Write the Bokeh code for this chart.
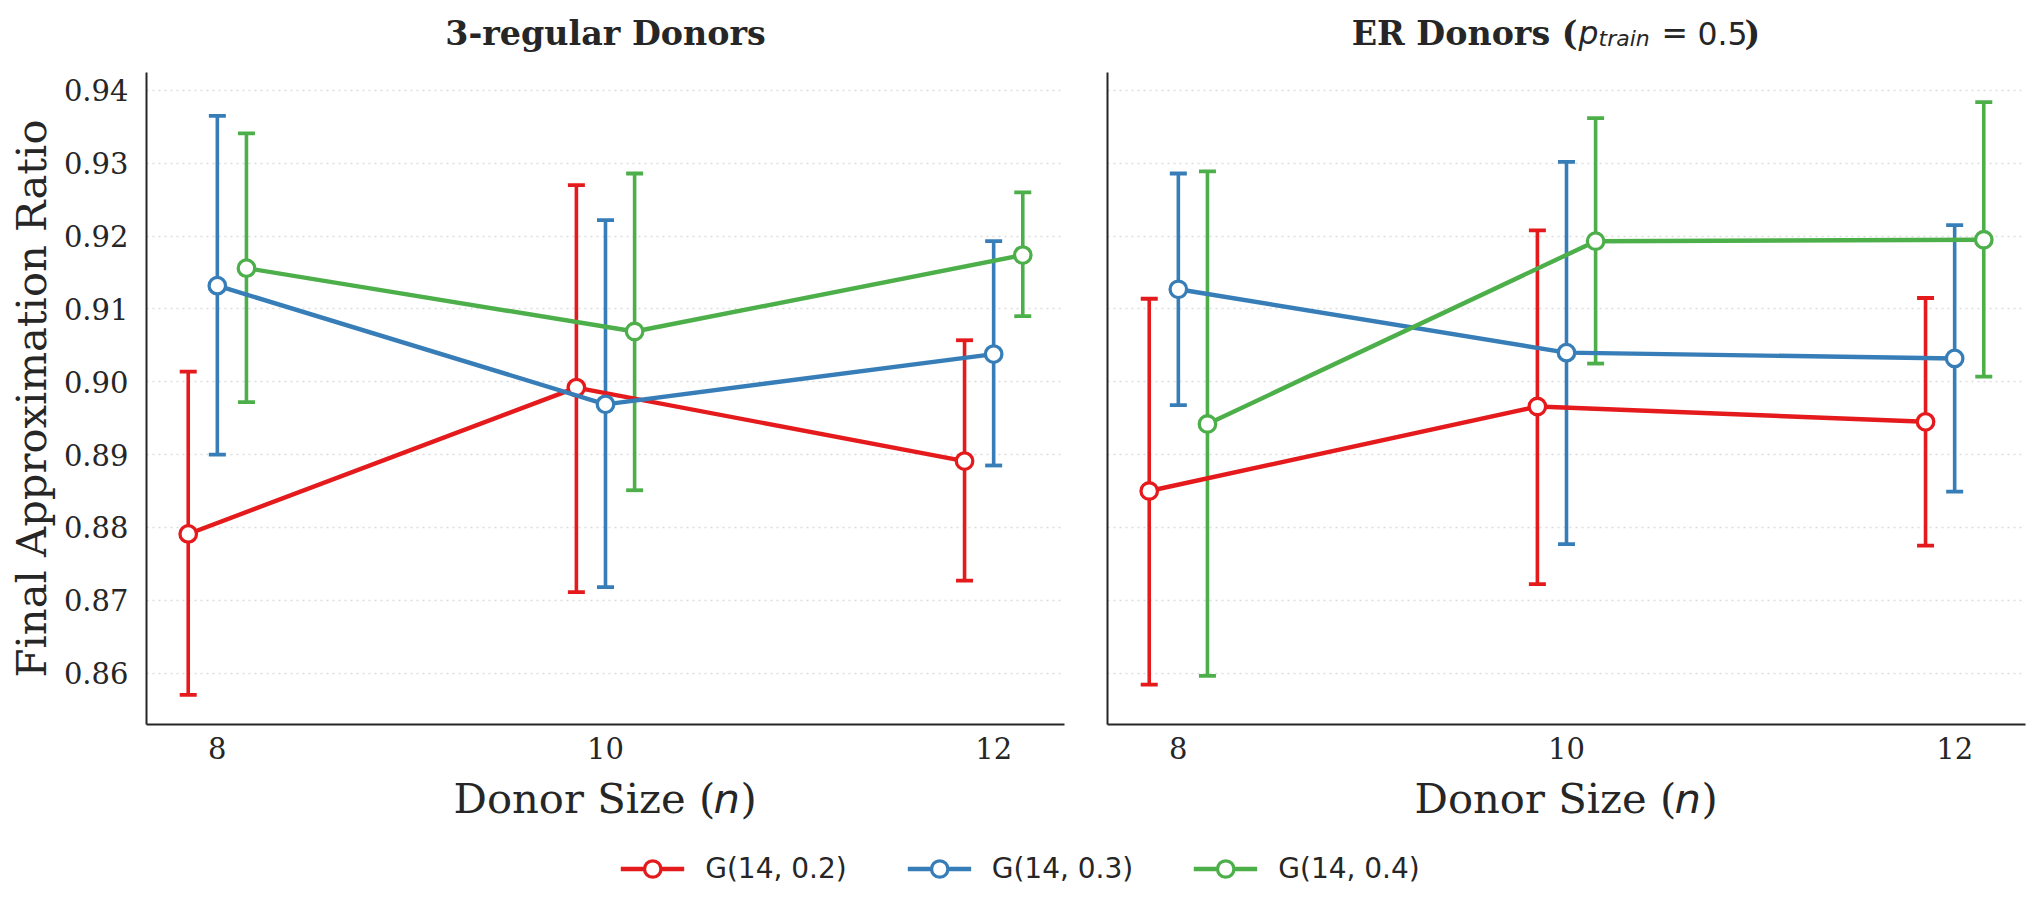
import numpy as np
from bokeh.plotting import figure
from bokeh.models import (ColumnDataSource, Range1d, FixedTicker, PrintfTickFormatter,
                          Label, Legend, LegendItem)
from bokeh.layouts import row, column
from bokeh.embed import file_html
from bokeh.resources import INLINE

# ---------------- data ----------------
donor_sizes = [8, 10, 12]
series_names = ["G(14, 0.2)", "G(14, 0.3)", "G(14, 0.4)"]
y_ticks = [0.86, 0.87, 0.88, 0.89, 0.90, 0.91, 0.92, 0.93, 0.94]

# 3-regular donors
reg_mean_02 = [0.8791, 0.8992, 0.8891]
reg_lo_02 = [0.8570, 0.8711, 0.8727]
reg_hi_02 = [0.9014, 0.9270, 0.9057]
reg_mean_03 = [0.9132, 0.8969, 0.9038]
reg_lo_03 = [0.8900, 0.8718, 0.8885]
reg_hi_03 = [0.9365, 0.9222, 0.9193]
reg_mean_04 = [0.9156, 0.9069, 0.9174]
reg_lo_04 = [0.8972, 0.8851, 0.9090]
reg_hi_04 = [0.9341, 0.9286, 0.9260]

# ER donors (p_train = 0.5)
er_mean_02 = [0.8850, 0.8966, 0.8945]
er_lo_02 = [0.8584, 0.8722, 0.8775]
er_hi_02 = [0.9114, 0.9208, 0.9115]
er_mean_03 = [0.9127, 0.9040, 0.9032]
er_lo_03 = [0.8968, 0.8777, 0.8849]
er_hi_03 = [0.9286, 0.9302, 0.9215]
er_mean_04 = [0.8942, 0.9193, 0.9195]
er_lo_04 = [0.8596, 0.9025, 0.9007]
er_hi_04 = [0.9289, 0.9362, 0.9384]

# ---------------- style ----------------
SERIF = "DejaVu Serif"
SANS = "DejaVu Sans"
TXT = "#262626"
COLORS = ["#e41a1c", "#377eb8", "#4daf4a"]
DODGE = [-0.15, 0.0, 0.15]

W_TOTAL, H_TOTAL = 2040, 913
FRAME_W, FRAME_H = 918, 652
TOP, BOTTOM = 72, 46
L1, R1, L2, R2 = 146, 10, 33, 15
LINE_W, ERR_W, CAP_W, CAP_SIZE, MK_SIZE, MK_W = 4.4, 3.6, 3.8, 17, 16.5, 3.3

all_vals = (reg_lo_02 + reg_lo_03 + reg_lo_04 + reg_hi_02 + reg_hi_03 + reg_hi_04 +
            er_lo_02 + er_lo_03 + er_lo_04 + er_hi_02 + er_hi_03 + er_hi_04)
ymin, ymax = min(all_vals), max(all_vals)
ypad = 0.05 * (ymax - ymin)
Y0, Y1 = ymin - ypad, ymax + ypad
xa, xb = min(donor_sizes) + DODGE[0], max(donor_sizes) + DODGE[-1]
xpad = 0.05 * (xb - xa)
X0, X1 = xa - xpad, xb + xpad


def make_panel(means, los, his, border_left, border_right, left_panel):
    p = figure(output_backend="svg", toolbar_location=None,
               frame_width=FRAME_W, frame_height=FRAME_H,
               x_range=Range1d(X0, X1), y_range=Range1d(Y0, Y1),
               min_border_left=border_left, min_border_right=border_right,
               min_border_top=0, min_border_bottom=BOTTOM,
               background_fill_color="white", border_fill_color="white",
               outline_line_color=None)
    p.xgrid.visible = False
    p.ygrid.ticker = FixedTicker(ticks=y_ticks)
    p.ygrid.grid_line_color = "#dcdcdc"
    p.ygrid.grid_line_dash = "2 4"
    p.ygrid.grid_line_width = 1.4

    for ax in (p.xaxis[0], p.yaxis[0]):
        ax.axis_line_color = TXT
        ax.axis_line_width = 2
        ax.major_tick_out = 0
        ax.major_tick_in = 0
        ax.minor_tick_out = 0
        ax.minor_tick_in = 0
        ax.major_label_text_font = SERIF
        ax.major_label_text_color = TXT
        ax.major_label_text_font_size = "29px"
    p.xaxis.ticker = FixedTicker(ticks=donor_sizes)
    p.xaxis.major_label_standoff = 12
    if left_panel:
        p.yaxis.ticker = FixedTicker(ticks=y_ticks)
        p.yaxis.formatter = PrintfTickFormatter(format="%.2f")
        p.yaxis.major_label_standoff = 18
        p.yaxis.axis_label = "Final Approximation Ratio"
        p.yaxis.axis_label_text_font = SERIF
        p.yaxis.axis_label_text_font_style = "normal"
        p.yaxis.axis_label_text_font_size = "41.7px"
        p.yaxis.axis_label_text_color = TXT
        p.yaxis.axis_label_standoff = 5
    else:
        p.yaxis.ticker = FixedTicker(ticks=[])
        p.yaxis.major_label_standoff = 0

    # error bars
    for k in range(3):
        xs = [d + DODGE[k] for d in donor_sizes]
        src = ColumnDataSource(dict(x=xs, lo=los[k], hi=his[k]))
        p.segment(x0="x", y0="lo", x1="x", y1="hi", source=src,
                  line_color=COLORS[k], line_width=ERR_W)
        p.scatter(x="x", y="lo", source=src, marker="dash", size=CAP_SIZE,
                  line_color=COLORS[k], line_width=CAP_W)
        p.scatter(x="x", y="hi", source=src, marker="dash", size=CAP_SIZE,
                  line_color=COLORS[k], line_width=CAP_W)
    # lines + markers
    for k in range(3):
        xs = [d + DODGE[k] for d in donor_sizes]
        src = ColumnDataSource(dict(x=xs, m=means[k]))
        p.line(x="x", y="m", source=src, line_color=COLORS[k], line_width=LINE_W)
        p.scatter(x="x", y="m", source=src, marker="circle", size=MK_SIZE,
                  fill_color="white", line_color=COLORS[k], line_width=MK_W)
    return p


p1 = make_panel([reg_mean_02, reg_mean_03, reg_mean_04],
                [reg_lo_02, reg_lo_03, reg_lo_04],
                [reg_hi_02, reg_hi_03, reg_hi_04], L1, R1, True)
p2 = make_panel([er_mean_02, er_mean_03, er_mean_04],
                [er_lo_02, er_lo_03, er_lo_04],
                [er_hi_02, er_hi_03, er_hi_04], L2, R2, False)

left_frame = L1
right_frame = L1 + FRAME_W + R1 + L2


def strip(height):
    f = figure(output_backend="svg", toolbar_location=None, width=W_TOTAL, height=height,
               x_range=Range1d(0, W_TOTAL), y_range=Range1d(0, height), min_border=0,
               x_axis_type=None, y_axis_type=None, outline_line_color=None,
               background_fill_color="white", border_fill_color="white")
    f.grid.visible = False
    return f


# ---- title strip ----
ts = strip(TOP)
tb = 39.5  # baseline position (from bottom of strip)
t_kw = dict(y=tb, text_baseline="alphabetic", text_color=TXT)
ts.add_layout(Label(text="3-regular Donors", x=left_frame + FRAME_W / 2, text_align="center",
                    text_font=SERIF, text_font_style="bold", text_font_size="33.3px", **t_kw))
ts.add_layout(Label(text="ER Donors (", x=right_frame + 470, text_align="right",
                    text_font=SERIF, text_font_style="bold", text_font_size="33.3px", **t_kw))
ts.add_layout(Label(text="p", x=right_frame + 471, text_align="left",
                    text_font=SANS, text_font_style="italic", text_font_size="31.5px", **t_kw))
ts.add_layout(Label(text="train", x=right_frame + 491, y=tb - 5, text_align="left",
                    text_baseline="alphabetic", text_color=TXT,
                    text_font=SANS, text_font_style="italic", text_font_size="22px"))
ts.add_layout(Label(text="=", x=right_frame + 554, text_align="left",
                    text_font=SANS, text_font_size="31.5px", **t_kw))
ts.add_layout(Label(text="0.5", x=right_frame + 590, text_align="left",
                    text_font=SANS, text_font_size="31.5px", **t_kw))
ts.add_layout(Label(text=")", x=right_frame + 637, text_align="left",
                    text_font=SERIF, text_font_style="bold", text_font_size="33.3px", **t_kw))

# ---- bottom strip: x labels + legend ----
BS_H = H_TOTAL - TOP - FRAME_H - BOTTOM
bs = strip(BS_H)
xb_base = H_TOTAL - 812 + 14
for fl in (left_frame, right_frame):
    kw = dict(y=xb_base, text_baseline="alphabetic", text_align="left",
              text_color=TXT, text_font_size="41.7px")
    bs.add_layout(Label(text="Donor Size (", x=fl + 307, text_font=SERIF, **kw))
    bs.add_layout(Label(text="n", x=fl + 567, text_font=SANS, text_font_style="italic", **kw))
    bs.add_layout(Label(text=")", x=fl + 594, text_font=SERIF, **kw))

items = []
for k, means in enumerate([reg_mean_02, reg_mean_03, reg_mean_04]):
    src = ColumnDataSource(dict(x=donor_sizes, y=means))
    r1 = bs.line(x="x", y="y", source=src, line_color=COLORS[k], line_width=LINE_W,
                 visible=False)
    r2 = bs.scatter(x="x", y="y", source=src, marker="circle", size=MK_SIZE,
                    fill_color="white", line_color=COLORS[k], line_width=MK_W,
                    visible=False)
    items.append(LegendItem(label=series_names[k], renderers=[r1, r2]))
leg = Legend(items=items, orientation="horizontal", location="bottom_center",
             border_line_color=None, background_fill_alpha=0,
             inactive_fill_alpha=0,
             glyph_width=64, glyph_height=41, label_standoff=21, spacing=60,
             label_text_font=SANS, label_text_font_size="28px", label_text_color=TXT,
             padding=0, margin=24)
bs.add_layout(leg)

layout = column(ts, row(p1, p2), bs)
open("out.html", "w").write(file_html(layout, INLINE))
